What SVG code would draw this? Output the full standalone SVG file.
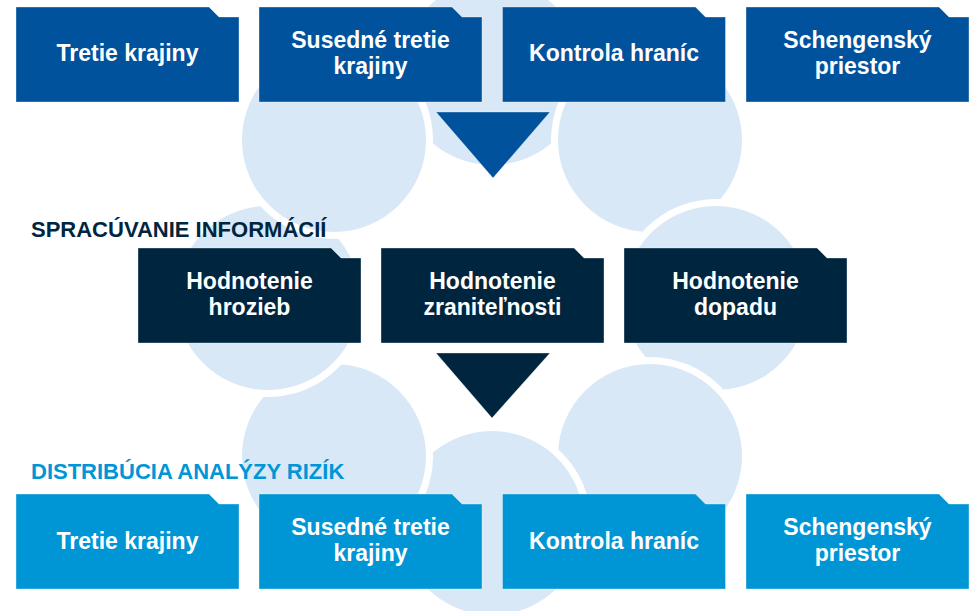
<svg xmlns="http://www.w3.org/2000/svg" width="969" height="611" viewBox="0 0 969 611">
<style>
.halo{fill:#ffffff}
.disc{fill:#d9e8f7}
.top{fill:#00529c}
.mid{fill:#00263f}
.bot{fill:#0096d6}
.box{stroke:#ffffff;stroke-opacity:0.35;stroke-width:1}
.lbl{font-family:"Liberation Sans",Arial,sans-serif;font-weight:bold;font-size:23px;fill:#ffffff;text-anchor:middle}
.ttl{font-family:"Liberation Sans",Arial,sans-serif;font-weight:bold;font-size:22px}
</style>
<defs>
<path id="shape" d="M0,0 H193 L203,10 H223 V95 H0 Z"/>
</defs>
<rect width="969" height="611" fill="#ffffff"/>
<g id="background">
<circle class="halo" cx="492" cy="73" r="99"/><circle class="disc" cx="492" cy="73" r="92"/>
<circle class="halo" cx="650" cy="140" r="99"/><circle class="disc" cx="650" cy="140" r="92"/>
<circle class="halo" cx="716" cy="298" r="99"/><circle class="disc" cx="716" cy="298" r="92"/>
<circle class="halo" cx="650" cy="456" r="99"/><circle class="disc" cx="650" cy="456" r="92"/>
<circle class="halo" cx="492" cy="523" r="99"/><circle class="disc" cx="492" cy="523" r="92"/>
<circle class="halo" cx="334" cy="456" r="99"/><circle class="disc" cx="334" cy="456" r="92"/>
<circle class="halo" cx="268" cy="298" r="99"/><circle class="disc" cx="268" cy="298" r="92"/>
<circle class="halo" cx="334" cy="140" r="99"/><circle class="disc" cx="334" cy="140" r="92"/>
</g>
<g id="connectors">
<polygon class="top box" points="436,112 550,112 493,178"/>
<polygon class="mid box" points="436,353 550,353 492,418"/>
</g>
<g id="top-tretie">
<use href="#shape" x="16" y="7" class="top box"/>
<text class="lbl" x="127.5" y="61">Tretie krajiny</text>
</g>
<g id="top-susedne">
<use href="#shape" x="259" y="7" class="top box"/>
<text class="lbl" x="370.5" y="48">Susedné tretie</text>
<text class="lbl" x="370.5" y="73.5">krajiny</text>
</g>
<g id="top-kontrola">
<use href="#shape" x="502.5" y="7" class="top box"/>
<text class="lbl" x="614" y="61">Kontrola hraníc</text>
</g>
<g id="top-schengen">
<use href="#shape" x="746" y="7" class="top box"/>
<text class="lbl" x="857.5" y="48">Schengenský</text>
<text class="lbl" x="857.5" y="73.5">priestor</text>
</g>
<g id="title-spracuvanie">
<text class="ttl" x="31" y="237" fill="#00263f">SPRACÚVANIE INFORMÁCIÍ</text>
</g>
<g id="mid-hrozieb">
<use href="#shape" x="138" y="248" class="mid box"/>
<text class="lbl" x="249.5" y="289">Hodnotenie</text>
<text class="lbl" x="249.5" y="314.5">hrozieb</text>
</g>
<g id="mid-zranitelnosti">
<use href="#shape" x="381" y="248" class="mid box"/>
<text class="lbl" x="492.5" y="289">Hodnotenie</text>
<text class="lbl" x="492.5" y="314.5">zraniteľnosti</text>
</g>
<g id="mid-dopadu">
<use href="#shape" x="624" y="248" class="mid box"/>
<text class="lbl" x="735.5" y="289">Hodnotenie</text>
<text class="lbl" x="735.5" y="314.5">dopadu</text>
</g>
<g id="title-distribucia">
<text class="ttl" x="31" y="479" fill="#0096d6">DISTRIBÚCIA ANALÝZY RIZÍK</text>
</g>
<g id="bot-tretie">
<use href="#shape" x="16" y="494" class="bot box"/>
<text class="lbl" x="127.5" y="549">Tretie krajiny</text>
</g>
<g id="bot-susedne">
<use href="#shape" x="259" y="494" class="bot box"/>
<text class="lbl" x="370.5" y="535">Susedné tretie</text>
<text class="lbl" x="370.5" y="561">krajiny</text>
</g>
<g id="bot-kontrola">
<use href="#shape" x="502.5" y="494" class="bot box"/>
<text class="lbl" x="614" y="549">Kontrola hraníc</text>
</g>
<g id="bot-schengen">
<use href="#shape" x="746" y="494" class="bot box"/>
<text class="lbl" x="857.5" y="535">Schengenský</text>
<text class="lbl" x="857.5" y="561">priestor</text>
</g>
</svg>
